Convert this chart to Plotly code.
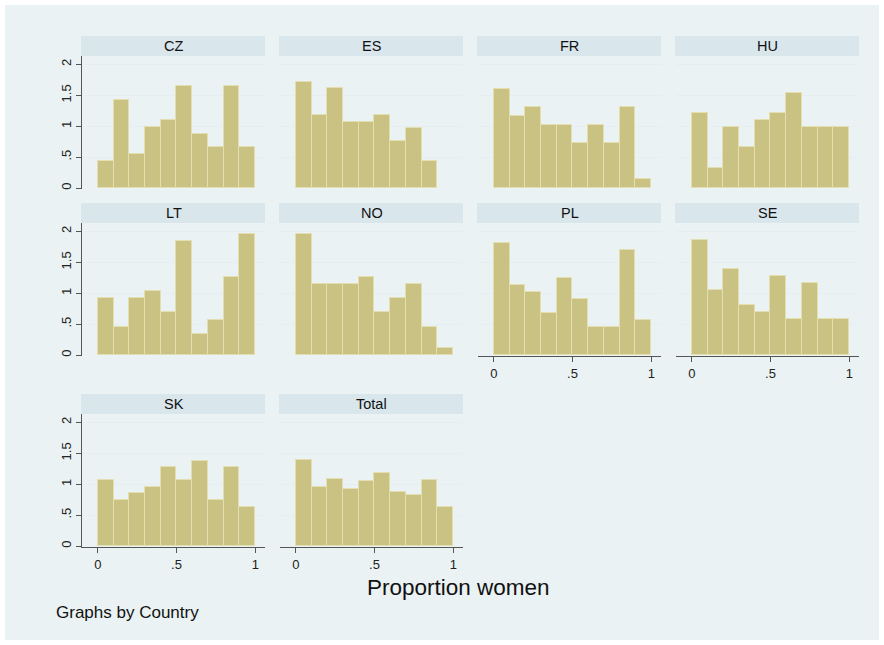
import plotly.graph_objects as go

# Histogram densities (bin width 0.1, bins starting at 0) by country
BIN_LEFT = [0.0, 0.1, 0.2, 0.3, 0.4, 0.5, 0.6, 0.7, 0.8, 0.9]
COUNTRIES = ["CZ", "ES", "FR", "HU", "LT", "NO", "PL", "SE", "SK", "Total"]

CZ = [0.440, 1.429, 0.549, 0.989, 1.099, 1.648, 0.879, 0.659, 1.648, 0.659]
ES = [1.720, 1.183, 1.613, 1.075, 1.075, 1.183, 0.753, 0.968, 0.430]
FR = [1.594, 1.159, 1.304, 1.014, 1.014, 0.725, 1.014, 0.725, 1.304, 0.145]
HU = [1.209, 0.330, 0.989, 0.659, 1.099, 1.209, 1.538, 0.989, 0.989, 0.989]
LT = [0.920, 0.460, 0.920, 1.034, 0.690, 1.839, 0.345, 0.575, 1.264, 1.954]
NO = [1.954, 1.149, 1.149, 1.149, 1.264, 0.690, 0.920, 1.149, 0.460, 0.115]
PL = [1.818, 1.136, 1.023, 0.682, 1.250, 0.909, 0.455, 0.455, 1.705, 0.568]
SE = [1.860, 1.047, 1.395, 0.814, 0.698, 1.279, 0.581, 1.163, 0.581, 0.581]
SK = [1.064, 0.745, 0.851, 0.957, 1.277, 1.064, 1.383, 0.745, 1.277, 0.638]
TOTAL = [1.387, 0.954, 1.081, 0.929, 1.056, 1.183, 0.878, 0.827, 1.069, 0.636]

DENSITIES = [CZ, ES, FR, HU, LT, NO, PL, SE, SK, TOTAL]

Y_TICKS = [0, 0.5, 1, 1.5, 2]
Y_TICKTEXT = ["0", ".5", "1", "1.5", "2"]
X_TICKS = [0, 0.5, 1]
X_TICKTEXT = ["0", ".5", "1"]

W, H = 884, 645
FONT = "Liberation Sans, Arial, sans-serif"
BG = "#EAF2F3"
STRIP = "#D9E6EC"
BAR = "#C9C283"
BAR_LINE = "#E3DFB0"
AXIS = "#555555"
GRID = "#E6EEF1"

# panel geometry in pixels
COL_LEFT = [82, 280, 478, 676]
PANEL_W = 183
ROW_TOP = [56, 223, 414]
PANEL_H = 133
STRIP_H = 20

# which panels carry an x axis (no panel directly below)
BOTTOM = {"PL", "SE", "SK", "Total"}

fig = go.Figure()
shapes = []
annotations = []

for i, (name, dens) in enumerate(zip(COUNTRIES, DENSITIES)):
    r, c = divmod(i, 4)
    n = i + 1
    xs = "" if n == 1 else str(n)
    x0, x1 = COL_LEFT[c], COL_LEFT[c] + PANEL_W
    yt, yb = ROW_TOP[r], ROW_TOP[r] + PANEL_H

    fig.add_trace(go.Bar(
        x=BIN_LEFT[:len(dens)], y=dens, width=0.1, offset=0,
        marker=dict(color=BAR, line=dict(color=BAR_LINE, width=1)),
        xaxis="x" + xs, yaxis="y" + xs, showlegend=False, hoverinfo="skip",
    ))

    is_bottom = name in BOTTOM
    fig.layout["xaxis" + xs] = dict(
        domain=[x0 / W, x1 / W], anchor="y" + xs, range=[-0.1, 1.062],
        showgrid=False, zeroline=False,
        showline=is_bottom, linecolor=AXIS, linewidth=1,
        ticks="outside" if is_bottom else "", ticklen=5, tickcolor=AXIS,
        tickvals=X_TICKS, ticktext=X_TICKTEXT, showticklabels=is_bottom,
        tickfont=dict(family=FONT, size=13, color="#222222"),
        fixedrange=True,
    )
    first_col = c == 0
    fig.layout["yaxis" + xs] = dict(
        domain=[1 - yb / H, 1 - yt / H], anchor="x" + xs, range=[-0.015, 2.135],
        showgrid=True, gridcolor=GRID, gridwidth=1, zeroline=False,
        showline=first_col, linecolor=AXIS, linewidth=1,
        ticks="outside" if first_col else "", ticklen=5, tickcolor=AXIS,
        tickvals=Y_TICKS, ticktext=Y_TICKTEXT, showticklabels=first_col,
        tickangle=-90,
        tickfont=dict(family=FONT, size=13, color="#222222"),
        fixedrange=True,
    )

    # panel title strip
    shapes.append(dict(
        type="rect", xref="paper", yref="paper", layer="below",
        x0=(x0 - 1) / W, x1=x1 / W, y0=1 - yt / H, y1=1 - (yt - STRIP_H) / H,
        fillcolor=STRIP, line=dict(width=0),
    ))
    annotations.append(dict(
        text=name, xref="paper", yref="paper",
        x=(x0 + x1) / 2 / W, y=1 - (yt - STRIP_H / 2) / H,
        xanchor="center", yanchor="middle", showarrow=False,
        font=dict(family=FONT, size=14.5, color="#111111"),
    ))

annotations.append(dict(
    text="Proportion women", xref="paper", yref="paper",
    x=458 / W, y=1 - 587 / H, xanchor="center", yanchor="middle",
    showarrow=False, font=dict(family=FONT, size=22.5, color="#111111"),
))
annotations.append(dict(
    text="Graphs by Country", xref="paper", yref="paper",
    x=54 / W, y=1 - 612 / H, xanchor="left", yanchor="middle",
    showarrow=False, font=dict(family=FONT, size=17, color="#111111"),
))

# outer graph region with thin white frame
shapes.insert(0, dict(
    type="rect", xref="paper", yref="paper", layer="below",
    x0=5 / W, x1=879 / W, y0=1 - 640 / H, y1=1 - 5 / H,
    fillcolor=BG, line=dict(width=0),
))

fig.update_layout(
    width=W, height=H, margin=dict(l=0, r=0, t=0, b=0),
    paper_bgcolor="white", plot_bgcolor="white",
    shapes=shapes, annotations=annotations, bargap=0,
    font=dict(family=FONT),
)

fig.write_html("out.html", config={"displayModeBar": False})
